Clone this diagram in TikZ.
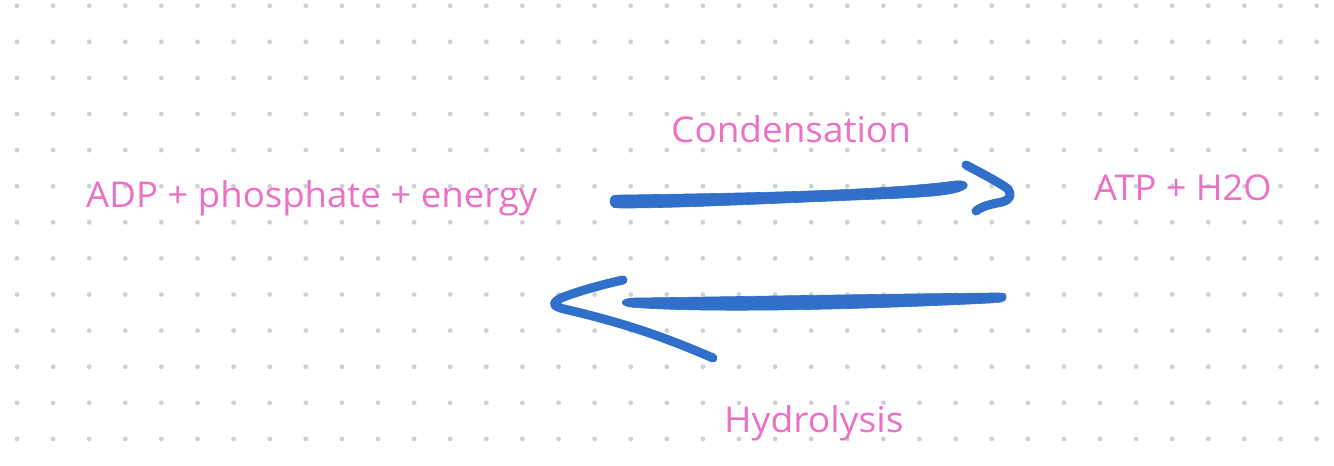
\documentclass[tikz,border=0pt]{standalone}
\usepackage{fontspec}
\usepackage{graphicx}
\setmainfont{Open Sans}
\definecolor{dotgray}{HTML}{CCD0D9}
\definecolor{inkblue}{HTML}{3070CB}
\definecolor{labelpink}{HTML}{EC70C4}
\newcommand{\widetext}[2]{\scalebox{#1}[1]{#2}}
\tikzset{
  lbl/.style={text=labelpink, anchor=base west, inner sep=0pt, font=\fontsize{35.5}{42}\selectfont},
  shaft/.style={fill=inkblue, draw=inkblue, line width=0.6pt, line join=round},
  headstroke/.style={draw=inkblue, line width=9pt, line cap=round, line join=round}
}
\begin{document}
\begin{tikzpicture}[x=1pt, y=-1pt]
\fill[white] (0,0) rectangle (1334,466);
\useasboundingbox (0,0) rectangle (1334,466);
% dot grid
\foreach \i in {0,...,36} {
  \foreach \j in {0,...,12} {
    \fill[dotgray] ({17+36.1*\i},{5.7+36.1*\j}) circle (2.4pt);
  }
}
% labels
\node[lbl] (adp) at (86,207) {\widetext{1.03}{ADP + phosphate + energy}};
\node[lbl] (atp) at (1094,200) {\widetext{1.02}{ATP + H2O}};
\node[lbl] (cond) at (671,142) {\widetext{1.04}{Condensation}};
\node[lbl] (hydro) at (724,432) {\widetext{1.05}{Hydrolysis}};
% named end points of the hand-drawn arrows
\coordinate (ctail) at (610,202);
\coordinate (ctip) at (1011,194);
\coordinate (htail) at (1006,298);
\coordinate (htip) at (552,303);
% condensation arrow (shaft)
\path[shaft] (ctail) .. controls (611,195) .. (625,195)
  .. controls (750,193) and (880,191) .. (955,181)
  .. controls (964,180) and (970,183) .. (966,188)
  .. controls (958,195) and (930,197) .. (880,199)
  .. controls (780,203) and (680,208) .. (625,208)
  .. controls (612,208) .. (ctail) -- cycle;
% condensation arrow (head)
\path[headstroke] (966,165) .. controls (985,175) and (1000,183) .. (1008,189)
  .. controls (ctip) and (1012,199) .. (1002,202)
  .. controls (992,204) and (982,206) .. (976,211);
% hydrolysis arrow (shaft)
\path[shaft] (htail) .. controls (1006,293) .. (995,293)
  .. controls (880,294) and (720,297) .. (635,298)
  .. controls (620,298) and (618,305) .. (630,307)
  .. controls (700,313) and (850,310) .. (990,303)
  .. controls (1004,302) .. (htail) -- cycle;
% hydrolysis arrow (head)
\path[headstroke] (623,280) .. controls (600,285) and (576,292) .. (561,298)
  .. controls (htip) and (552,306) .. (564,309)
  .. controls (620,322) and (660,335) .. (713,358);
\end{tikzpicture}
\end{document}
